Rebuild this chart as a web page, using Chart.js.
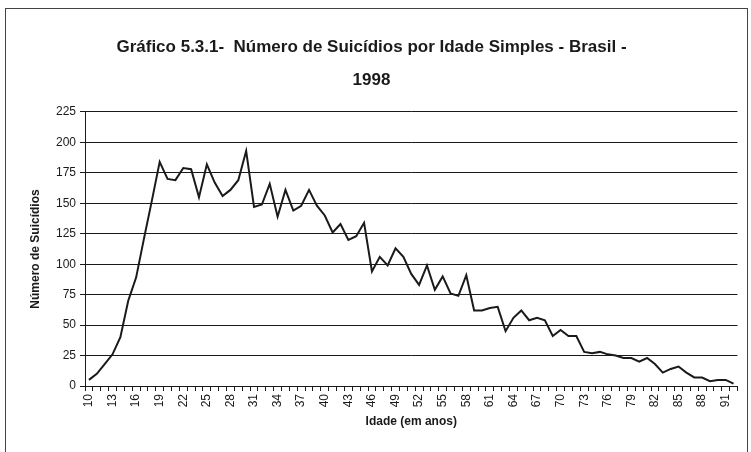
<!DOCTYPE html>
<html>
<head>
<meta charset="utf-8">
<script src="https://cdn.jsdelivr.net/npm/chart.js@4.4.0/dist/chart.umd.min.js"></script>
<style>
  html, body { margin:0; padding:0; background:#fff; }
  #wrap { position:relative; width:751px; height:452px; }
</style>
</head>
<body>
<div id="wrap"><canvas id="chart" width="751" height="452"></canvas></div>
<script>
(function(){
  'use strict';

  // idade simples (anos)
  const ages = [10,11,12,13,14,15,16,17,18,19,20,21,22,23,24,25,26,27,28,29,
    30,31,32,33,34,35,36,37,38,39,40,41,42,43,44,45,46,47,48,49,
    50,51,52,53,54,55,56,57,58,59,60,61,62,63,64,65,66,67,68,69,
    70,71,72,73,74,75,76,77,78,79,80,81,82,83,84,85,86,87,88,89,
    90,91,92];

  // numero de suicidios por idade - Brasil 1998
  const suicides = [5,10,18,26,40,70,89,121,152,184,170,169,179,178,155,182,167,156,161,169,
    193,147,149,166,139,161,144,148,161,148,140,126,133,120,123,134,94,106,99,113,
    106,92,83,99,79,90,76,74,91,62,62,64,65,45,56,62,54,56,54,41,
    46,41,41,28,27,28,26,25,23,23,20,23,18,11,14,16,11,7,7,4,
    5,5,2];

  const yMin = 0, yMax = 225, yStep = 25;
  const labelEvery = 3;

  const titleLines = ['Gráfico 5.3.1-  Número de Suicídios por Idade Simples - Brasil -', '1998'];
  const yTitle = 'Número de Suicídios';
  const xTitle = 'Idade (em anos)';

  const FONT = "'Liberation Sans', Arial, sans-serif";
  const INK = '#1a1a1a';

  // white page + chart area frame
  const frame = {
    id: 'frame',
    beforeDraw(chart){
      const c = chart.ctx;
      c.save();
      c.fillStyle = '#fff';
      c.fillRect(0, 0, chart.width, chart.height);
      c.strokeStyle = '#444';
      c.lineWidth = 1;
      c.strokeRect(5.5, 8.5, chart.width - 9, chart.height);
      c.restore();
    }
  };

  new Chart(document.getElementById('chart').getContext('2d'), {
    type: 'line',
    data: {
      labels: ages,
      datasets: [{
        label: 'Suicídios',
        data: suicides,
        borderColor: INK,
        borderWidth: 2,
        pointRadius: 0,
        tension: 0,
        fill: false
      }]
    },
    options: {
      responsive: false,
      animation: false,
      layout: { padding: { left: 0, right: 8, top: 0, bottom: 0 } },
      plugins: {
        legend: { display: false },
        tooltip: { enabled: false },
        title: {
          display: true,
          text: titleLines,
          color: INK,
          font: { family: FONT, size: 17, weight: 'bold', lineHeight: 1.94 },
          padding: { top: 30.5, bottom: 15.5 }
        }
      },
      scales: {
        x: {
          offset: true,
          afterFit(scale){ scale.height = 66; },
          grid: { display: true, drawOnChartArea: false, drawTicks: true, tickLength: 5, offset: true, color: INK },
          border: { display: true, color: INK, width: 1 },
          ticks: {
            autoSkip: false, maxRotation: 90, minRotation: 90, padding: 3,
            color: INK, font: { family: FONT, size: 12 },
            callback(value, index){ const a = ages[index]; return (a - ages[0]) % labelEvery === 0 ? String(a) : ''; }
          },
          title: {
            display: true, text: xTitle, color: INK,
            font: { family: FONT, size: 12, weight: 'bold' },
            padding: { top: 0, bottom: 23 }
          }
        },
        y: {
          min: yMin, max: yMax,
          afterFit(scale){ scale.width = 85; },
          grid: { color: INK, lineWidth: 1, tickLength: 5, drawTicks: true },
          border: { display: true, color: INK, width: 1 },
          ticks: { stepSize: yStep, padding: 4, color: INK, font: { family: FONT, size: 12 } },
          title: {
            display: true, text: yTitle, color: INK,
            font: { family: FONT, size: 12, weight: 'bold' },
            padding: { top: 28, bottom: 0 }
          }
        }
      }
    },
    plugins: [frame]
  });
})();
</script>
</body>
</html>
